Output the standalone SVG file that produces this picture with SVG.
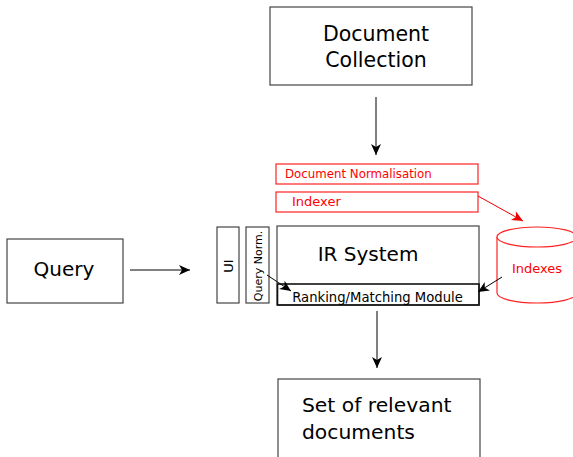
<svg xmlns="http://www.w3.org/2000/svg" width="573" height="457" viewBox="0 0 573 457">
<defs>
<marker id="ah" markerUnits="userSpaceOnUse" markerWidth="14" markerHeight="12" refX="11" refY="5" orient="auto" overflow="visible">
<path d="M11,5 L0,0 L3,5 L0,10 Z" fill="#000"/>
</marker>
<marker id="ahr" markerUnits="userSpaceOnUse" markerWidth="14" markerHeight="12" refX="11" refY="5" orient="auto" overflow="visible">
<path d="M11,5 L0,0 L3,5 L0,10 Z" fill="#e00"/>
</marker>
</defs>
<style>
text{font-family:"DejaVu Sans","Liberation Sans",sans-serif;fill:#000}
.box{fill:#fff;stroke:#444;stroke-width:1.2}
.rbox{fill:#fff;stroke:#f22;stroke-width:1.2}
.rt{fill:#f00}
.c{stroke:#000;stroke-width:1;fill:none;marker-end:url(#ah)}
.cr{stroke:#e00;stroke-width:1;fill:none;marker-end:url(#ahr)}
</style>
<g id="doc-collection">
<rect class="box" x="270" y="7" width="202" height="78"/>
<text x="376" y="41" font-size="20.5" text-anchor="middle">Document</text>
<text x="376" y="67" font-size="20.5" text-anchor="middle">Collection</text>
</g>
<g id="doc-normalisation">
<rect class="rbox" x="276" y="164" width="202" height="20"/>
<text class="rt" x="285" y="178" font-size="11.8">Document Normalisation</text>
</g>
<g id="indexer">
<rect class="rbox" x="276" y="192" width="202" height="20"/>
<text class="rt" x="292" y="206" font-size="13">Indexer</text>
</g>
<g id="ir-system">
<rect class="box" x="277" y="226" width="202" height="79"/>
<text x="368" y="261" font-size="20" text-anchor="middle">IR System</text>
</g>
<g id="ranking">
<rect x="277.5" y="284" width="201.5" height="21" fill="none" stroke="#111" stroke-width="1.6"/>
<text x="377.5" y="301.5" font-size="13.2" text-anchor="middle">Ranking/Matching Module</text>
</g>
<g id="ui">
<rect class="box" x="217" y="227" width="22" height="76"/>
<text transform="translate(232.5,266) rotate(-90)" font-size="13" text-anchor="middle">UI</text>
</g>
<g id="query-norm">
<rect class="box" x="246" y="227" width="23" height="76"/>
<text transform="translate(262,266) rotate(-90)" font-size="11" text-anchor="middle">Query Norm.</text>
</g>
<g id="indexes">
<path d="M497,237 L497,293 A40,10 0 0 0 577,293 L577,237" fill="#fff" stroke="#f22" stroke-width="1.2"/>
<ellipse cx="537" cy="237" rx="40" ry="10" fill="#fff" stroke="#f22" stroke-width="1.2"/>
<text class="rt" x="537" y="273" font-size="13" text-anchor="middle">Indexes</text>
</g>
<g id="query">
<rect class="box" x="7" y="239" width="116" height="64"/>
<text x="64" y="276" font-size="20" text-anchor="middle">Query</text>
</g>
<g id="result">
<rect class="box" x="278" y="379" width="202" height="90"/>
<text x="302" y="412" font-size="20.3">Set of relevant</text>
<text x="302" y="439" font-size="20.3">documents</text>
</g>
<g id="connectors">
<line class="c" x1="376" y1="97" x2="376" y2="155"/>
<line class="c" x1="130" y1="270" x2="190" y2="270"/>
<line class="c" x1="377" y1="311" x2="377" y2="368"/>
<line class="c" x1="267" y1="275" x2="291" y2="291"/>
<line class="c" x1="502" y1="277" x2="478" y2="292"/>
<line class="cr" x1="478" y1="196" x2="523" y2="221"/>
</g>
</svg>
